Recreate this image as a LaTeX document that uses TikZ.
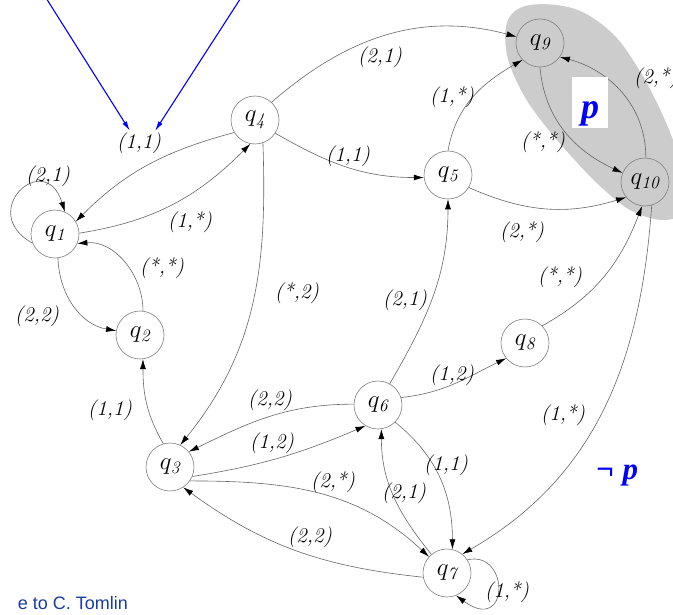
\documentclass[tikz,border=0pt]{standalone}
\usepackage{fontspec}
\usetikzlibrary{arrows.meta}
\newfontfamily\timesfont{Liberation Serif}
\newfontfamily\creditfont{Liberation Sans}
\definecolor{creditblue}{RGB}{25,60,160}
\definecolor{setgray}{gray}{0.80}

\begin{document}
\begin{tikzpicture}[x=1pt,y=1pt,
  state/.style={circle,draw=black!50,line width=0.6pt,minimum size=48pt,inner sep=0pt,
                font=\fontsize{25}{27}\selectfont},
  whitestate/.style={state,fill=white},
  edge/.style={draw=black!60,line width=0.6pt,-{Latex[length=10pt,width=6pt,color=black]}},
  lab/.style={font=\fontsize{21}{24}\selectfont\itshape,inner sep=0pt},
  hint/.style={draw=blue,line width=1.1pt,-{Latex[length=10pt,width=5pt,color=blue]}},
  prop/.style={text=blue,font=\timesfont\bfseries\itshape}
]
\useasboundingbox (0,-615) rectangle (673,0);

% shaded region for the set where p holds
\fill[setgray] plot[smooth cycle,tension=0.6] coordinates {
  (530,-5) (575,-9) (612,-33) (638,-68) (658,-105) (675,-145) (688,-185)
  (684,-212) (662,-220) (630,-210) (600,-186) (572,-157) (543,-123)
  (522,-92) (507,-55) (508,-20)};

% states
\node[whitestate] (q1) at (55,-234) {$q_{\mathit{1}}$};
\node[whitestate] (q2) at (140,-335) {$q_{\mathit{2}}$};
\node[whitestate] (q3) at (170,-467) {$q_{\mathit{3}}$};
\node[whitestate] (q4) at (255,-120) {$q_{\mathit{4}}$};
\node[whitestate] (q5) at (448,-175) {$q_{\mathit{5}}$};
\node[whitestate] (q6) at (378,-405) {$q_{\mathit{6}}$};
\node[whitestate] (q7) at (447,-573) {$q_{\mathit{7}}$};
\node[whitestate] (q8) at (525,-343) {$q_{\mathit{8}}$};
\node[state] (q9) at (540,-43) {$q_{\mathit{9}}$};
\node[state] (q10) at (645,-182) {$q_{\mathit{10}}$};

% transitions
\draw[edge] (q4.211) to[out=195,in=45] (q1.31);
\draw[edge] (q1.2) to[out=9,in=225] (q4.259);
\draw[edge] (q1.202) .. controls (-24,-212) and (45,-148) .. (q1.66);
\draw[edge] (q1.277) to[out=272,in=170] (q2.170);
\draw[edge] (q2.83) to[out=90,in=5] (q1.337);
\draw[edge] (q3.106) to[out=120,in=270] (q2.277);
\draw[edge] (q4.289) to[out=-88,in=51] (q3.65);
\draw[edge] (q4.47) to[out=41,in=165] (q9.165);
\draw[edge] (q4.327) to[out=-30,in=180] (q5.186);
\draw[edge] (q5.90) to[out=80,in=210] (q9.224);
\draw[edge] (q5.329) to[out=-24,in=197] (q10.219);
\draw[edge] (q9.270) to[out=-85,in=155] (q10.158);
\draw[edge] (q10.88) to[out=90,in=345] (q9.325);
\draw[edge] (q6.61) to[out=60,in=270] (q5.270);
\draw[edge] (q6.18) to[out=6,in=206] (q8.219);
\draw[edge] (q8.45) to[out=29,in=249] (q10.263);
\draw[edge] (q10.286) to[out=266,in=30] (q7.51);
\draw[edge] (q6.178) to[out=180,in=26] (q3.39);
\draw[edge] (q3.337) to[out=9,in=203] (q6.239);
\draw[edge] (q3.325) to[out=0,in=137] (q7.138);
\draw[edge] (q7.190) to[out=174,in=324] (q3.303);
\draw[edge] (q6.315) to[out=-39,in=90] (q7.77);
\draw[edge] (q7.130) to[out=129,in=270] (q6.278);
\draw[edge] (q7.33) .. controls (510,-550) and (510,-635) .. (q7.292);

% transition labels
\node[lab] (l1) at (139,-143) {(1,1)};
\node[lab] (l2) at (190,-222) {(1,*)};
\node[lab] (l3) at (48,-176) {(2,1)};
\node[lab] (l4) at (37,-316) {(2,2)};
\node[lab] (l5) at (162,-268) {(*,*)};
\node[lab] (l6) at (110,-410) {(1,1)};
\node[lab] (l7) at (297,-293) {(*,2)};
\node[lab] (l8) at (380,-57) {(2,1)};
\node[lab] (l9) at (348,-156) {(1,1)};
\node[lab] (l10) at (452,-97) {(1,*)};
\node[lab] (l11) at (522,-232) {(2,*)};
\node[lab] (l12) at (543,-142) {(*,*)};
\node[lab] (l13) at (656,-78) {(2,*)};
\node[lab] (l14) at (405,-300) {(2,1)};
\node[lab] (l15) at (452,-375) {(1,2)};
\node[lab] (l16) at (560,-277) {(*,*)};
\node[lab] (l17) at (563,-415) {(1,*)};
\node[lab] (l18) at (270,-400) {(2,2)};
\node[lab] (l19) at (272,-443) {(1,2)};
\node[lab] (l20) at (333,-482) {(2,*)};
\node[lab] (l21) at (310,-537) {(2,2)};
\node[lab] (l22) at (446,-465) {(1,1)};
\node[lab] (l23) at (404,-493) {(2,1)};
\node[lab] (l24) at (507,-592) {(1,*)};

% propositions
\node[fill=white,minimum width=36pt,minimum height=51pt,inner sep=0pt] (pbox) at (590,-102.5) {};
\node[prop,font=\timesfont\bfseries\itshape\fontsize{36}{36}\selectfont,anchor=base,inner sep=0pt] (p) at (590,-119) {p};
\node[prop,font=\timesfont\bfseries\itshape\fontsize{31}{31}\selectfont,anchor=base west,inner sep=0pt] (notp) at (596,-479) {¬ p};

% pointers to the (1,1) label
\coordinate (h1) at (41,10);
\coordinate (h2) at (246,10);
\coordinate (t1) at (130,-131);
\coordinate (t2) at (155,-131);
\draw[hint] (h1) -- (t1);
\draw[hint] (h2) -- (t2);

% credit line
\node[anchor=base east,inner sep=0pt,text=creditblue,font=\creditfont\fontsize{18}{20}\selectfont] (credit) at (128,-609) {e to C. Tomlin};
\end{tikzpicture}
\end{document}
